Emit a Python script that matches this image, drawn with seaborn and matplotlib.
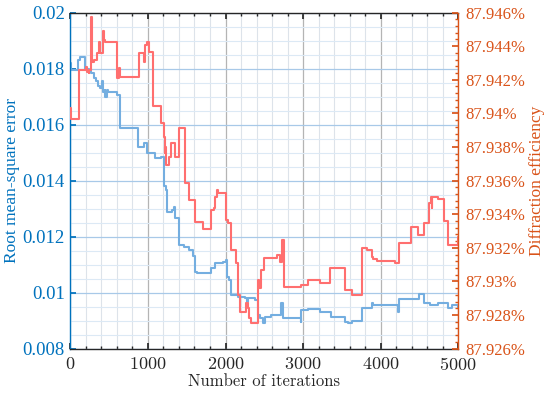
import numpy as np
import pandas as pd
import seaborn as sns
import matplotlib
matplotlib.use("Agg")
import matplotlib.pyplot as plt
from matplotlib.ticker import MultipleLocator, FuncFormatter

# RMSE curve (step, value holds until next iteration)
rmse_iter = [0, 13, 99, 129, 184, 245, 270, 300, 330, 356, 386, 408, 416, 442, 450, 472, 485,
             600, 644, 871, 944, 987, 1094, 1171, 1205, 1236, 1244, 1308, 1334, 1351, 1394,
             1471, 1532, 1587, 1609, 1630, 1811, 1862, 1970, 2000, 2013, 2043, 2069, 2163,
             2249, 2271, 2292, 2378, 2413, 2443, 2486, 2507, 2593, 2722, 2744, 2972, 2980,
             3066, 3217, 3359, 3539, 3582, 3625, 3763, 3883, 3905, 4227, 4240, 4494, 4562,
             4635, 4743, 4872, 4915, 4992, 5000]
rmse_val = [0.0182, 0.01795, 0.01831, 0.0184, 0.0180, 0.01795, 0.01783, 0.01765, 0.01754,
            0.01736, 0.0173, 0.01754, 0.01718, 0.01724, 0.0170, 0.01724, 0.01718,
            0.01706, 0.01587, 0.01521, 0.01533, 0.01498, 0.0148, 0.01486, 0.01379, 0.01367,
            0.01289, 0.01295, 0.01307, 0.01265, 0.0117, 0.01164, 0.01152, 0.01129, 0.01075,
            0.01071, 0.01087, 0.01105, 0.01111, 0.01117, 0.01057, 0.01045, 0.00992, 0.00986,
            0.0098, 0.00968, 0.0098, 0.00974, 0.0092, 0.00908, 0.0089, 0.00914, 0.0092,
            0.00962, 0.00908, 0.00896, 0.00938, 0.0094, 0.00932, 0.00914, 0.00896, 0.00893,
            0.009, 0.00944, 0.00962, 0.00956, 0.00932, 0.00976, 0.00995, 0.00962, 0.00956,
            0.00962, 0.00944, 0.00956, 0.00944, 0.00944]

# diffraction efficiency curve (%)
eff_iter = [0, 9, 107, 202, 215, 236, 245, 270, 279, 300, 343, 365, 382, 416, 429, 450, 600,
            630, 644, 879, 952, 965, 987, 1008, 1068, 1171, 1201, 1214, 1223, 1231, 1266,
            1300, 1343, 1394, 1480, 1532, 1609, 1716, 1819, 1854, 1871, 1892, 1905, 2000,
            2034, 2069, 2129, 2163, 2185, 2258, 2284, 2301, 2335, 2421, 2430, 2464, 2499,
            2658, 2701, 2731, 2757, 2980, 3066, 3217, 3346, 3539, 3625, 3763, 3819, 3883,
            3905, 3948, 4184, 4240, 4292, 4390, 4476, 4562, 4623, 4648, 4657, 4666, 4743,
            4816, 4872, 4992, 5000]
eff_val = [87.94031, 87.93965, 87.94259, 87.94279, 87.94249, 87.94239, 87.94259, 87.94572,
           87.94308, 87.94318, 87.94358, 87.94427, 87.94358, 87.94493, 87.94437, 87.94427,
           87.94209, 87.94269, 87.94219, 87.94358, 87.94308, 87.94408, 87.94427, 87.94368,
           87.94041, 87.93941, 87.93862, 87.93763, 87.93802, 87.93693, 87.93743, 87.93822,
           87.93743, 87.93912, 87.93584, 87.93485, 87.93356, 87.9331, 87.93425, 87.93435,
           87.93505, 87.93544, 87.93529, 87.93366, 87.93346, 87.93187, 87.93108, 87.9292,
           87.9282, 87.9287, 87.9284, 87.92781, 87.92751, 87.93009, 87.92959, 87.93068,
           87.93138, 87.93158, 87.93118, 87.93247, 87.92969, 87.92979, 87.93009, 87.92989,
           87.93078, 87.92949, 87.9292, 87.93197, 87.93187, 87.93148, 87.93132, 87.93124,
           87.93112, 87.93227, 87.93231, 87.93326, 87.93277, 87.9335, 87.93469, 87.93501,
           87.93435, 87.93501, 87.93489, 87.93362, 87.93217, 87.93267, 87.93267]

x_ticks = [0, 1000, 2000, 3000, 4000, 5000]
left_ticks = [0.008, 0.01, 0.012, 0.014, 0.016, 0.018, 0.02]
right_ticks = [87.926, 87.928, 87.93, 87.932, 87.934, 87.936, 87.938, 87.94, 87.942, 87.944, 87.946]

blue_axis = "#0072BD"
orange_axis = "#D95319"
blue_line = "#74aee0"
red_line = "#ff6f6f"

sns.set_theme(style="white")
plt.rcParams["font.family"] = ["Liberation Serif", "DejaVu Serif"]
plt.rcParams["axes.formatter.use_mathtext"] = True

df_rmse = pd.DataFrame({"iter": rmse_iter, "rmse": rmse_val})
df_eff = pd.DataFrame({"iter": eff_iter, "eff": eff_val})

fig = plt.figure(figsize=(5.5, 3.93), dpi=100)
ax = fig.add_axes([0.128, 0.113, 0.705, 0.855])
ax2 = ax.twinx()

sns.lineplot(data=df_rmse, x="iter", y="rmse", ax=ax, color=blue_line, lw=1.5,
             drawstyle="steps-post", estimator=None, sort=False)
sns.lineplot(data=df_eff, x="iter", y="eff", ax=ax2, color=red_line, lw=1.5,
             drawstyle="steps-post", estimator=None, sort=False)

ax.set_xlim(0, 5000)
ax.set_ylim(0.008, 0.02)
ax2.set_ylim(87.926, 87.946)

ax.set_xticks(x_ticks)
ax.xaxis.set_minor_locator(MultipleLocator(200))
ax.set_yticks(left_ticks)
ax.yaxis.set_minor_locator(MultipleLocator(0.0005))
ax2.set_yticks(right_ticks)
ax2.yaxis.set_minor_locator(MultipleLocator(0.0004))

ax.yaxis.set_major_formatter(FuncFormatter(lambda v, p: "%g" % round(v, 4)))
ax2.yaxis.set_major_formatter(FuncFormatter(lambda v, p: "%g%%" % round(v, 4)))

# grid
ax.set_axisbelow(True)
ax.grid(True, which="major", axis="x", color="#b4b4b4", lw=0.9)
ax.grid(True, which="minor", axis="x", color="#dde3ea", lw=0.8)
ax.grid(True, which="major", axis="y", color="#a8c9e8", lw=0.9)
ax.grid(True, which="minor", axis="y", color="#dce9f5", lw=0.8)
ax2.grid(False)

# spines
for s in ["top", "bottom"]:
    ax.spines[s].set_color("#262626")
    ax2.spines[s].set_visible(False)
ax.spines["left"].set_color(blue_axis)
ax2.spines["left"].set_visible(False)
ax2.spines["right"].set_color(orange_axis)
ax.spines["right"].set_visible(False)
for a in (ax, ax2):
    for s in a.spines.values():
        s.set_linewidth(1.0)

ax.tick_params(axis="x", which="both", direction="in", top=True, bottom=True,
               color="#262626", labelsize=13, pad=5)
ax.tick_params(axis="x", which="major", length=4)
ax.tick_params(axis="x", which="minor", length=2.5)
ax.tick_params(axis="y", which="major", direction="in", length=4, color=blue_axis,
               labelcolor=blue_axis, labelsize=13.5, left=True, pad=4)
ax.tick_params(axis="y", which="minor", left=False, right=False)
ax2.tick_params(axis="y", which="major", direction="in", length=4, color=orange_axis,
                labelcolor=orange_axis, labelsize=12, right=True, pad=5)
ax2.tick_params(axis="y", which="minor", direction="in", length=2.5, color=orange_axis, right=True)

for lbl in ax.get_xticklabels():
    lbl.set_fontfamily(["cmr10", "DejaVu Serif"])

ax.set_xlabel("Number of iterations", fontsize=12, family=["cmr10", "DejaVu Serif"],
              color="#262626", labelpad=1)
ax.set_ylabel("Root mean-square error", fontsize=12.5, color=blue_axis, labelpad=2)
ax2.set_ylabel("Diffraction efficiency", fontsize=12.5, color=orange_axis, labelpad=3)

fig.savefig("out.png", dpi=100)
